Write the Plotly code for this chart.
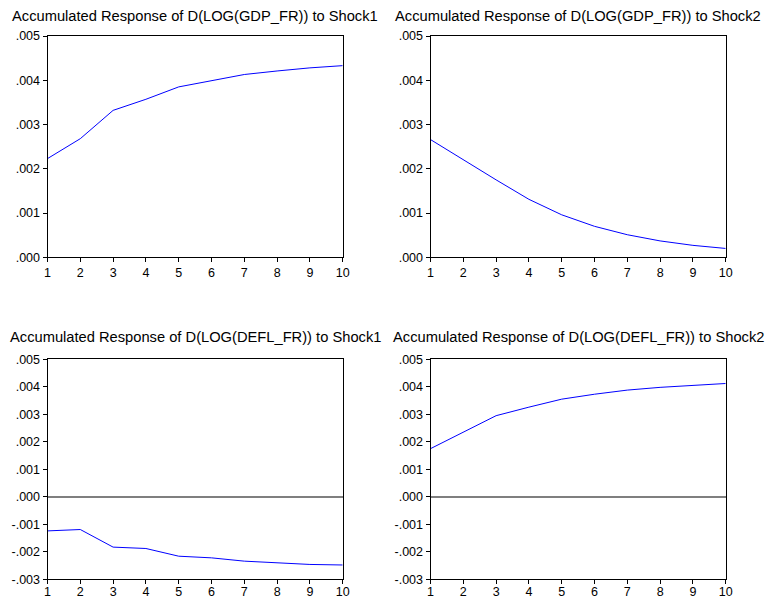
import plotly.graph_objects as go

periods = [1, 2, 3, 4, 5, 6, 7, 8, 9, 10]

gdp_shock1 = [0.00223, 0.00268, 0.00332, 0.00357, 0.00385, 0.00399, 0.00413, 0.00421, 0.00428, 0.00433]
gdp_shock2 = [0.00266, 0.00220, 0.00175, 0.00131, 0.00096, 0.00070, 0.00051, 0.00037, 0.00027, 0.00020]
defl_shock1 = [-0.00124, -0.00119, -0.00183, -0.00188, -0.00216, -0.00222, -0.00234, -0.00240, -0.00246, -0.00248]
defl_shock2 = [0.00175, 0.00234, 0.00295, 0.00326, 0.00355, 0.00373, 0.00388, 0.00398, 0.00406, 0.00412]

titles = [
    "Accumulated Response of D(LOG(GDP_FR)) to Shock1",
    "Accumulated Response of D(LOG(GDP_FR)) to Shock2",
    "Accumulated Response of D(LOG(DEFL_FR)) to Shock1",
    "Accumulated Response of D(LOG(DEFL_FR)) to Shock2",
]

top_tickvals = [0.000, 0.001, 0.002, 0.003, 0.004, 0.005]
top_ticktext = [".000", ".001", ".002", ".003", ".004", ".005"]
bot_tickvals = [-0.003, -0.002, -0.001, 0.000, 0.001, 0.002, 0.003, 0.004, 0.005]
bot_ticktext = ["-.003", "-.002", "-.001", ".000", ".001", ".002", ".003", ".004", ".005"]
x_ticktext = ["1", "2", "3", "4", "5", "6", "7", "8", "9", "10"]

W, H = 766, 600
FONT = "Liberation Sans, Arial, sans-serif"

# pixel geometry of plot areas (left, right, top, bottom)
panels = [
    (47.5, 342.7, 36.0, 257.3),
    (430.5, 725.7, 36.0, 257.3),
    (47.5, 342.7, 359.3, 579.3),
    (430.5, 725.7, 359.3, 579.3),
]
title_y = [16.0, 16.0, 336.5, 336.5]
series = [gdp_shock1, gdp_shock2, defl_shock1, defl_shock2]

fig = go.Figure()
layout = dict(
    width=W, height=H,
    margin=dict(l=0, r=0, t=0, b=0, autoexpand=False),
    paper_bgcolor="white", plot_bgcolor="white",
    showlegend=False,
    font=dict(family=FONT, color="black", size=13),
    annotations=[],
)

for i, (l, r, t, b) in enumerate(panels):
    n = "" if i == 0 else str(i + 1)
    fig.add_trace(go.Scatter(
        x=periods, y=series[i], mode="lines",
        line=dict(color="#0000FF", width=1),
        xaxis="x" + n, yaxis="y" + n, hoverinfo="skip",
    ))
    bottom_row = i >= 2
    layout["xaxis" + n] = dict(
        domain=[l / W, r / W], anchor="y" + n,
        range=[1, 10], tickvals=periods, ticktext=x_ticktext,
        showline=True, mirror=True, linecolor="black", linewidth=1,
        ticks="outside", ticklen=4, tickcolor="black", tickwidth=1,
        ticklabelstandoff=-3 if bottom_row else 0,
        showgrid=False, zeroline=False, automargin=False,
        tickfont=dict(family=FONT, size=12.5, color="black"),
    )
    layout["yaxis" + n] = dict(
        domain=[1 - b / H, 1 - t / H], anchor="x" + n,
        range=[-0.003, 0.005] if bottom_row else [0, 0.005],
        tickvals=bot_tickvals if bottom_row else top_tickvals,
        ticktext=bot_ticktext if bottom_row else top_ticktext,
        showline=True, mirror=True, linecolor="black", linewidth=1,
        ticks="outside", ticklen=4, tickcolor="black", tickwidth=1,
        showgrid=False, automargin=False,
        zeroline=bottom_row, zerolinecolor="#7f7f7f", zerolinewidth=1.5,
        tickfont=dict(family=FONT, size=12.5, color="black"),
    )
    layout["annotations"].append(dict(
        text=titles[i], xref="paper", yref="paper",
        x=(l + r) / 2 / W, y=1 - title_y[i] / H,
        xanchor="center", yanchor="middle", showarrow=False,
        font=dict(family=FONT, size=14.7, color="black"),
    ))

fig.update_layout(**layout)
fig.write_html("out.html")
